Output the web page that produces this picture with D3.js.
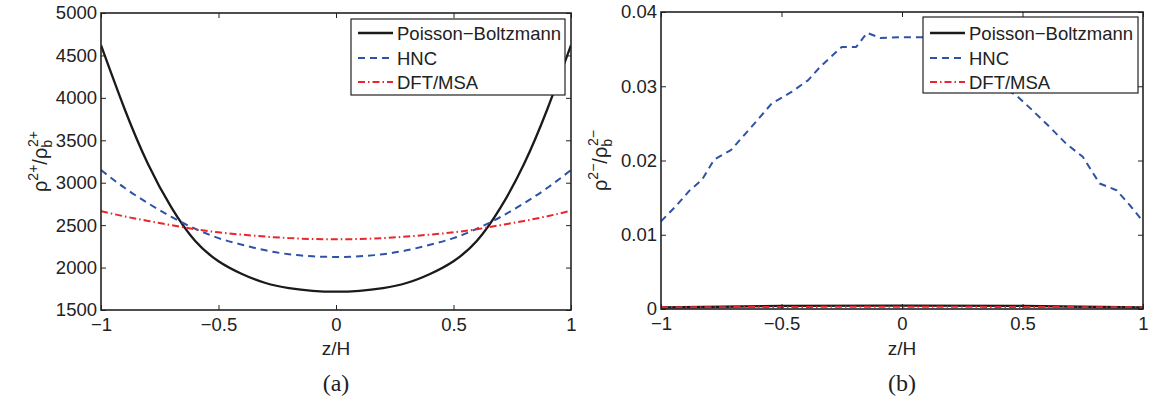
<!DOCTYPE html>
<html><head><meta charset="utf-8">
<script src="https://cdn.jsdelivr.net/npm/d3@7"></script>
<style>
body{margin:0;background:#fff}
svg{display:block}
text{font-family:"Liberation Sans",Arial,Helvetica,sans-serif;fill:#222}
</style>
</head><body>
<svg id="c" width="1151" height="405"></svg>
<script>
// ---------- data ----------
const seriesNames = ["Poisson\u2212Boltzmann", "HNC", "DFT/MSA"];
const xTicks = [-1, -0.5, 0, 0.5, 1];
const xTickLabels = ["\u22121", "\u22120.5", "0", "0.5", "1"];

// panel (a): rho^{2+}/rho_b^{2+}
const zA = [-1, -0.9, -0.8, -0.7, -0.6, -0.5, -0.4, -0.3, -0.2, -0.1, 0,
            0.1, 0.2, 0.3, 0.4, 0.5, 0.6, 0.7, 0.8, 0.9, 1];
const pbPlus  = [4620, 3872, 3220, 2706, 2316, 2075, 1925, 1818, 1758, 1726, 1716,
                 1726, 1758, 1818, 1925, 2075, 2316, 2706, 3220, 3872, 4620];
const hncPlus = [3150, 2940, 2758, 2596, 2458, 2347, 2269, 2203, 2157, 2133, 2125,
                 2133, 2157, 2203, 2269, 2347, 2458, 2596, 2758, 2940, 3150];
const dftPlus = [2665, 2603, 2550, 2500, 2452, 2415, 2388, 2365, 2347, 2337, 2333,
                 2337, 2347, 2365, 2388, 2415, 2452, 2500, 2550, 2605, 2670];
const yTicksA = [1500, 2000, 2500, 3000, 3500, 4000, 4500, 5000];
const yTickLabelsA = ["1500", "2000", "2500", "3000", "3500", "4000", "4500", "5000"];

// panel (b): rho^{2-}/rho_b^{2-}
const zB = [-1, -0.94, -0.88, -0.83, -0.78, -0.71, -0.62, -0.54, -0.46, -0.39, -0.34, -0.25,
            -0.19, -0.145, -0.09, 0, 0.1, 0.2, 0.3, 0.4, 0.48, 0.54, 0.61, 0.68, 0.75, 0.82,
            0.89, 0.95, 1];
const hncMinus = [0.0118, 0.0138, 0.0160, 0.0174, 0.0201, 0.0214, 0.0247, 0.0277, 0.0292,
                  0.0308, 0.0326, 0.0353, 0.0353, 0.0372, 0.0365, 0.0366, 0.0366, 0.0352,
                  0.0328, 0.0303, 0.0286, 0.0268, 0.0246, 0.0223, 0.0205, 0.0169, 0.0160,
                  0.0138, 0.0118];
const zBs = [-1, -0.74, -0.5, 0, 0.5, 0.74, 1];
const pbMinus  = [0.00020, 0.00030, 0.00042, 0.00045, 0.00042, 0.00030, 0.00020];
const dftMinus = [0.00022, 0.00025, 0.00028, 0.00030, 0.00028, 0.00025, 0.00022];
const yTicksB = [0, 0.01, 0.02, 0.03, 0.04];
const yTickLabelsB = ["0", "0.01", "0.02", "0.03", "0.04"];

// ---------- styles ----------
const styles = [
  {color: "#1a1a1a", width: 2.3, dash: null},
  {color: "#2f52a6", width: 2.0, dash: "7,5"},
  {color: "#e8262b", width: 2.0, dash: "7,3,1.5,3"}
];

const svg = d3.select("#c");
const FS = 18.5;

function panel(o) {
  const g = svg.append("g");
  const x = d3.scaleLinear().domain([-1, 1]).range([o.x0, o.x1]);
  const y = d3.scaleLinear().domain(o.yDomain).range([o.y1, o.y0]);
  const clipId = "clip" + o.id;
  svg.append("clipPath").attr("id", clipId).append("rect")
    .attr("x", o.x0).attr("y", o.y0).attr("width", o.x1 - o.x0).attr("height", o.y1 - o.y0);

  o.series.forEach((s, i) => {
    const st = styles[i];
    const pts = s.z.map((z, k) => [z, s.v[k]]);
    g.append("path")
      .attr("clip-path", `url(#${clipId})`)
      .attr("d", d3.line().x(d => x(d[0])).y(d => y(d[1])).curve(s.curve)(pts))
      .attr("fill", "none").attr("stroke", st.color).attr("stroke-width", st.width)
      .attr("stroke-dasharray", st.dash).attr("stroke-linejoin", "round");
  });

  const axStyle = sel => {
    sel.select(".domain").remove();
    sel.selectAll(".tick line").attr("stroke", "#222").attr("stroke-width", 1);
    sel.selectAll(".tick text").style("font-size", FS + "px").attr("fill", "#222");
  };
  g.append("g").attr("transform", `translate(0,${o.y1})`)
    .call(d3.axisBottom(x).tickValues(xTicks).tickFormat((d, i) => xTickLabels[i])
      .tickSizeInner(-5).tickSizeOuter(0).tickPadding(8)).call(axStyle);
  g.append("g").attr("transform", `translate(0,${o.y0})`)
    .call(d3.axisTop(x).tickValues(xTicks).tickFormat("")
      .tickSizeInner(-5).tickSizeOuter(0)).call(axStyle);
  g.append("g").attr("transform", `translate(${o.x0},0)`)
    .call(d3.axisLeft(y).tickValues(o.yTicks).tickFormat((d, i) => o.yTickLabels[i])
      .tickSizeInner(-5).tickSizeOuter(0).tickPadding(4)).call(axStyle);
  g.append("g").attr("transform", `translate(${o.x1},0)`)
    .call(d3.axisRight(y).tickValues(o.yTicks).tickFormat("")
      .tickSizeInner(-5).tickSizeOuter(0)).call(axStyle);

  g.append("rect").attr("x", o.x0).attr("y", o.y0)
    .attr("width", o.x1 - o.x0).attr("height", o.y1 - o.y0)
    .attr("fill", "none").attr("stroke", "#222").attr("stroke-width", 1.6);

  g.append("text").attr("x", (o.x0 + o.x1) / 2).attr("y", 355)
    .attr("text-anchor", "middle").style("font-size", "19px").text("z/H");

  g.append("text").attr("x", (o.x0 + o.x1) / 2).attr("y", 391)
    .attr("text-anchor", "middle")
    .style("font-family", "'Liberation Serif','DejaVu Serif',serif")
    .style("font-size", "24px").text(o.panelLabel);

  const yl = g.append("text")
    .attr("transform", `translate(${o.ylx},${(o.y0 + o.y1) / 2}) rotate(-90)`)
    .attr("text-anchor", "middle").style("font-size", "20px");
  yl.append("tspan").text("\u03c1");
  yl.append("tspan").attr("dy", -9).style("font-size", "14px").text(o.sup);
  yl.append("tspan").attr("dy", 9).text("/\u03c1");
  yl.append("tspan").attr("dy", 5).style("font-size", "14px").text("b");
  yl.append("tspan").attr("dy", -14).attr("dx", -7).style("font-size", "14px").text(o.sup);

  const L = o.legend;
  g.append("rect").attr("x", L.x).attr("y", L.y).attr("width", L.w).attr("height", L.h)
    .attr("fill", "#fff").attr("stroke", "#222").attr("stroke-width", 1.2);
  seriesNames.forEach((name, i) => {
    const st = styles[i];
    const ry = L.rows[i];
    g.append("line").attr("x1", L.x + 7).attr("x2", L.x + 42).attr("y1", ry).attr("y2", ry)
      .attr("stroke", st.color).attr("stroke-width", st.width)
      .attr("stroke-dasharray", st.dash);
    g.append("text").attr("x", L.x + 46).attr("y", ry).attr("dy", "0.36em")
      .style("font-size", FS + "px").text(name);
  });
}

panel({
  id: "a", x0: 101, x1: 571, y0: 13, y1: 310, yDomain: [1500, 5000],
  yTicks: yTicksA, yTickLabels: yTickLabelsA, ylx: 47, sup: "2+", panelLabel: "(a)",
  series: [
    {z: zA, v: pbPlus, curve: d3.curveNatural},
    {z: zA, v: hncPlus, curve: d3.curveNatural},
    {z: zA, v: dftPlus, curve: d3.curveNatural}
  ],
  legend: {x: 351, y: 19, w: 214, h: 76, rows: [33, 58, 82]}
});

panel({
  id: "b", x0: 661, x1: 1143, y0: 12, y1: 309, yDomain: [0, 0.04],
  yTicks: yTicksB, yTickLabels: yTickLabelsB, ylx: 607, sup: "2\u2212", panelLabel: "(b)",
  series: [
    {z: zBs, v: pbMinus, curve: d3.curveLinear},
    {z: zB, v: hncMinus, curve: d3.curveLinear},
    {z: zBs, v: dftMinus, curve: d3.curveLinear}
  ],
  legend: {x: 923, y: 17, w: 215, h: 76, rows: [33, 58, 82]}
});
</script>
</body></html>
